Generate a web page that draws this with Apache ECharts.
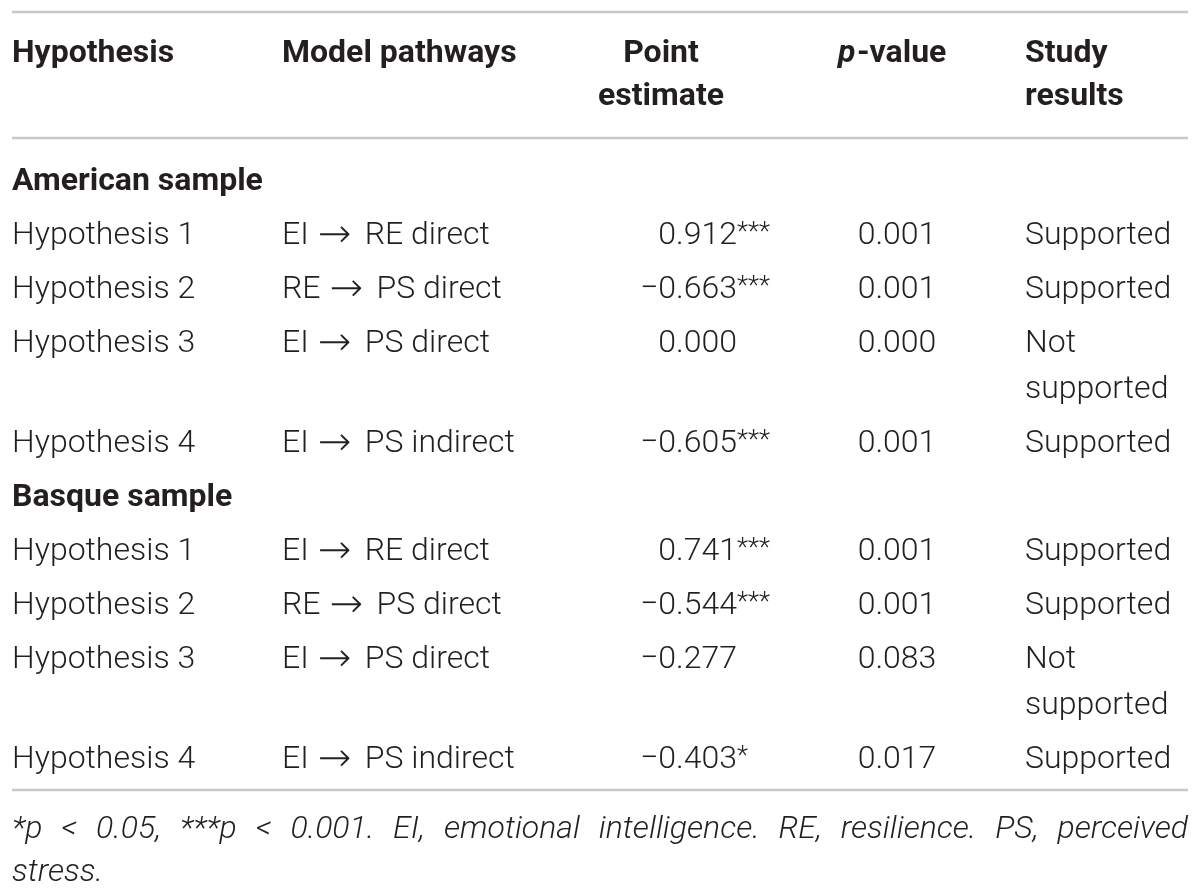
<!DOCTYPE html>
<html>
<head>
    <meta charset="utf-8">
    <style>
        html, body { margin: 0; padding: 0; background: #fff; }
        #main { width: 1200px; height: 896px; }
    </style>
</head>
<body>
    <div id="main"></div>
    <script src="https://cdn.jsdelivr.net/npm/echarts@6/dist/echarts.min.js"></script>
    <script type="text/javascript">
        // table contents
        var headers = [['Hypothesis'], ['Model pathways'], ['Point', 'estimate'], ['p-value'], ['Study', 'results']];
        var hypotheses = ['Hypothesis 1', 'Hypothesis 2', 'Hypothesis 3', 'Hypothesis 4'];
        var pathways = ['EI \u2192 RE direct', 'RE \u2192 PS direct', 'EI \u2192 PS direct', 'EI \u2192 PS indirect'];
        var groupNames = ['American sample', 'Basque sample'];

        var americanEstimates = [0.912, -0.663, 0.000, -0.605];
        var americanStars = ['***', '***', '', '***'];
        var americanP = [0.001, 0.001, 0.000, 0.001];
        var americanResults = ['Supported', 'Supported', 'Not supported', 'Supported'];

        var basqueEstimates = [0.741, -0.544, -0.277, -0.403];
        var basqueStars = ['***', '***', '', '*'];
        var basqueP = [0.001, 0.001, 0.083, 0.017];
        var basqueResults = ['Supported', 'Supported', 'Not supported', 'Supported'];

        var footnote = '*p < 0.05, ***p < 0.001. EI, emotional intelligence. RE, resilience. PS, perceived stress.';

        // layout
        var FAMILY = 'Roboto, "Liberation Sans", sans-serif';
        var ARROW_FAMILY = '"DejaVu Sans", sans-serif';
        var SIZE = 32;
        var INK = '#231f20';
        var colHyp = 12, colPath = 282, colEst = 737, colP = 897, colRes = 1025;
        var rowStep = 54, wrapStep = 46;
        var left = 12, right = 1188;

        var ctx = document.createElement('canvas').getContext('2d');
        function measure(text, font) {
            ctx.font = font;
            return ctx.measureText(text).width;
        }

        var texts = [];
        var rules = [];

        function addText(x, y, text, opts) {
            opts = opts || {};
            texts.push({
                x: x, y: y, text: text,
                align: opts.align || 'left',
                weight: opts.weight || 300,
                italic: !!opts.italic,
                size: opts.size || SIZE,
                family: opts.family || FAMILY,
                color: opts.color || INK
            });
        }

        function fmt(v) {
            var s = Math.abs(v).toFixed(3);
            return v < 0 ? '\u2212' + s : s;
        }

        // pathway text with a wider arrow glyph
        function addPath(x, y, text) {
            var parts = text.split(' \u2192 ');
            var w1 = measure(parts[0], '300 ' + SIZE + 'px ' + FAMILY);
            addText(x, y, parts[0]);
            addText(x + w1 + 26, y + 1, '\u2192', { family: ARROW_FAMILY, weight: 200, align: 'center', size: 40 });
            addText(x + w1 + 56, y, parts[1]);
        }

        rules.push(12);

        // header
        var hy = 54;
        var bold = { weight: 700 };
        addText(colHyp, hy, headers[0][0], bold);
        addText(colPath, hy, headers[1][0], bold);
        addText(661, hy, headers[2][0], { weight: 700, align: 'center' });
        addText(661, hy + 43, headers[2][1], { weight: 700, align: 'center' });
        addText(838, hy, 'p', { weight: 700, italic: true });
        addText(857, hy, headers[3][0].slice(1), bold);
        addText(colRes, hy, headers[4][0], bold);
        addText(colRes, hy + 43, headers[4][1], bold);

        rules.push(138);

        var y = 182;
        var groups = [
            [americanEstimates, americanStars, americanP, americanResults],
            [basqueEstimates, basqueStars, basqueP, basqueResults]
        ];
        groups.forEach(function (g, gi) {
            addText(colHyp, y, groupNames[gi], bold);
            y += rowStep;
            for (var i = 0; i < hypotheses.length; i++) {
                addText(colHyp, y, hypotheses[i]);
                addPath(colPath, y, pathways[i]);
                addText(colEst, y, fmt(g[0][i]), { align: 'right' });
                if (g[1][i]) addText(colEst, y - 3, g[1][i], { size: 26 });
                addText(colP, y, g[2][i].toFixed(3), { align: 'center' });
                var res = g[3][i];
                if (res.indexOf('Not ') === 0) {
                    addText(colRes, y, 'Not');
                    addText(colRes, y + wrapStep, res.slice(4));
                    y += wrapStep;
                }
                else {
                    addText(colRes, y, res);
                }
                y += rowStep;
            }
        });

        rules.push(790);

        // footnote, first line justified to full width
        var footFont = 'italic 300 ' + SIZE + 'px ' + FAMILY;
        var words = footnote.split(' ');
        var line1 = words.slice(0, words.length - 1);
        var line2 = words.slice(words.length - 1);
        var total = 0;
        line1.forEach(function (w) { total += measure(w, footFont); });
        var gap = (right - left - total) / (line1.length - 1);
        var fx = left;
        line1.forEach(function (w) {
            addText(fx, 830, w, { italic: true });
            fx += measure(w, footFont) + gap;
        });
        addText(left, 873, line2.join(' '), { italic: true });

        var myChart = echarts.init(document.getElementById('main'));
        myChart.setOption({
            backgroundColor: '#fff',
            animation: false,
            grid: { left: 0, right: 0, top: 0, bottom: 0 },
            xAxis: { type: 'value', min: 0, max: 1200, show: false },
            yAxis: { type: 'value', min: 0, max: 896, inverse: true, show: false },
            series: [
                {
                    type: 'custom',
                    data: rules.map(function (ry) { return [left, ry, right]; }),
                    renderItem: function (params, api) {
                        var a = api.coord([api.value(0), api.value(1)]);
                        var b = api.coord([api.value(2), api.value(1)]);
                        return {
                            type: 'line',
                            shape: { x1: a[0], y1: a[1], x2: b[0], y2: b[1] },
                            style: { stroke: '#c8c8c8', lineWidth: 2.5 }
                        };
                    }
                },
                {
                    type: 'custom',
                    data: texts.map(function (t, i) { return [t.x, t.y, i]; }),
                    renderItem: function (params, api) {
                        var p = api.coord([api.value(0), api.value(1)]);
                        var t = texts[api.value(2)];
                        return {
                            type: 'text',
                            x: p[0],
                            y: p[1],
                            style: {
                                text: t.text,
                                fontFamily: t.family,
                                fontSize: t.size,
                                fontWeight: t.weight,
                                fontStyle: t.italic ? 'italic' : 'normal',
                                fill: t.color,
                                align: t.align,
                                verticalAlign: 'middle'
                            }
                        };
                    }
                }
            ]
        });
    </script>
</body>
</html>
